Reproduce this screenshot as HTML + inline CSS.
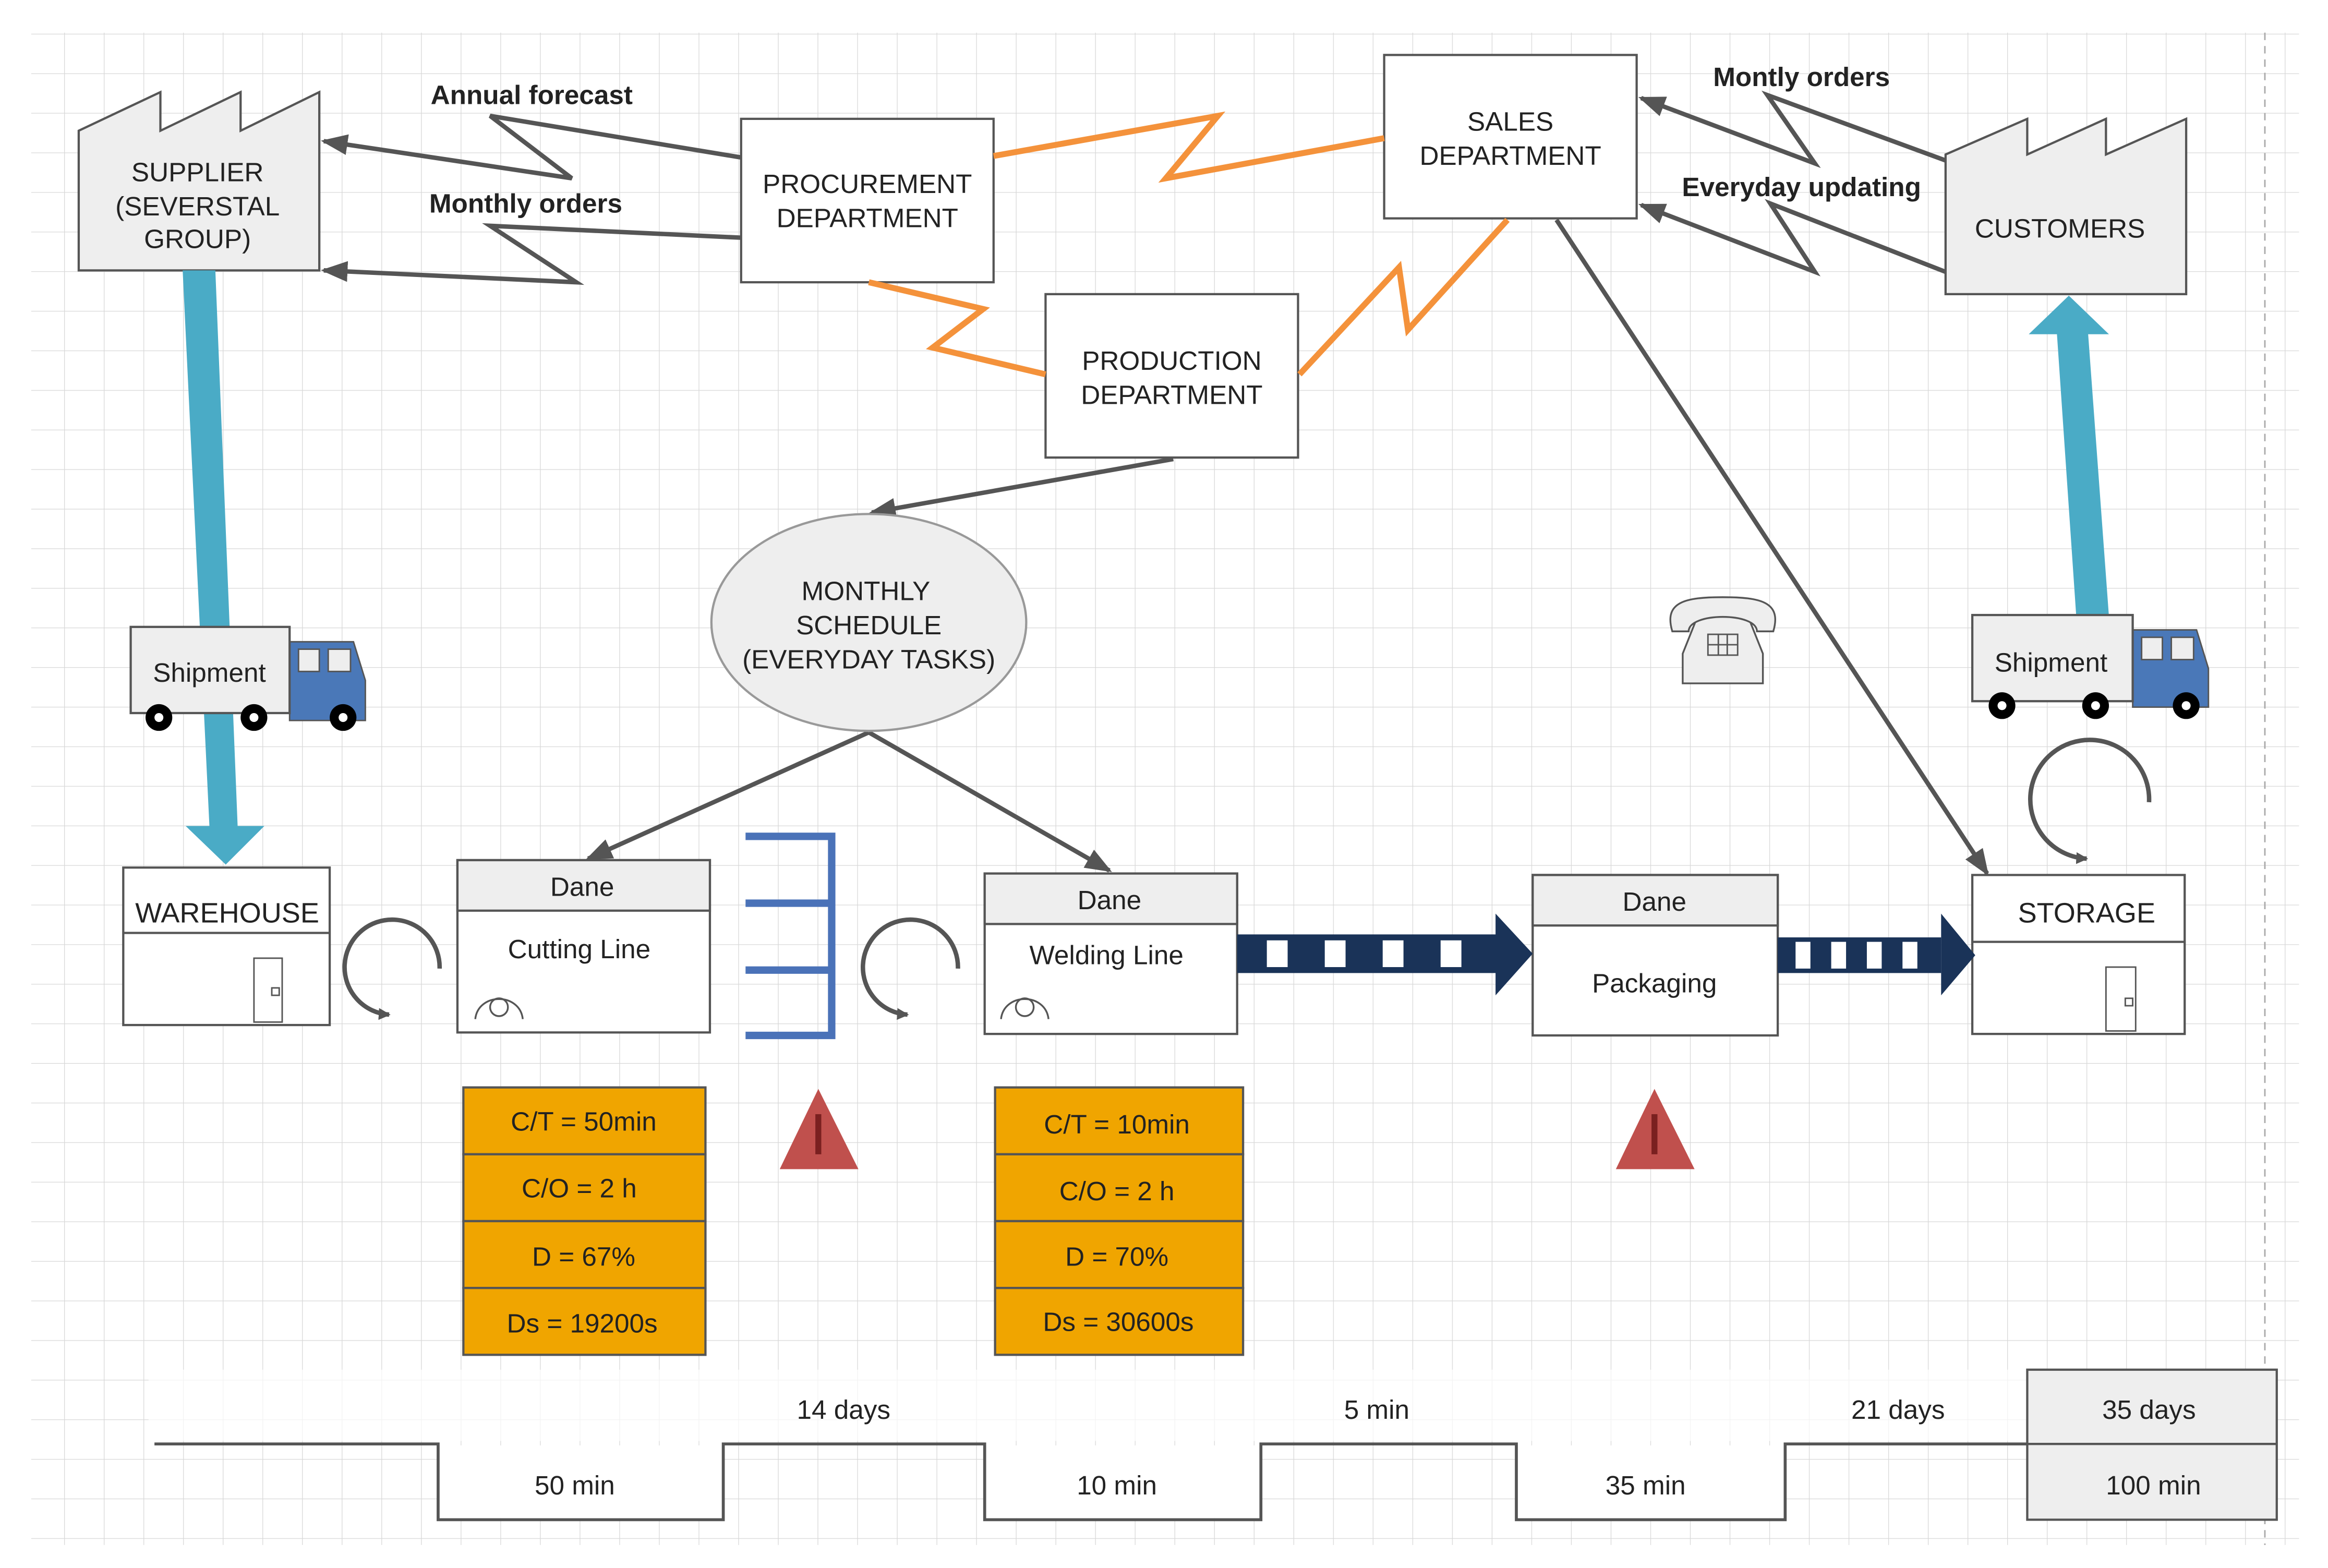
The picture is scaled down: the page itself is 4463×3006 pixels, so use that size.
<!DOCTYPE html>
<html><head><meta charset="utf-8"><style>
html,body{margin:0;padding:0;background:#fff;}
svg{display:block;}
text{font-family:"Liberation Sans",Arial,sans-serif;fill:#222;}
</style></head><body>
<svg width="4463" height="3006" viewBox="0 0 1567.5 1055.5" preserveAspectRatio="none" xmlns="http://www.w3.org/2000/svg">
<defs>
<pattern id="g" x="43.2" y="22.7" width="26.7" height="26.65" patternUnits="userSpaceOnUse">
<path d="M0 0 V26.65 M0 0 H26.7" stroke="#d8d8d8" stroke-width="0.9" fill="none"/>
</pattern>
<marker id="ah" markerWidth="8" markerHeight="8" refX="7" refY="4" orient="auto" markerUnits="userSpaceOnUse" viewBox="0 0 8 8">
<path d="M0,0 L8,4 L0,8 z" fill="#555"/></marker>
<marker id="ahb" markerWidth="18" markerHeight="14" refX="16" refY="7" orient="auto" markerUnits="userSpaceOnUse">
<path d="M0,0 L18,7 L0,14 z" fill="#555"/></marker>
</defs>
<rect x="21" y="22" width="1527" height="1018" fill="url(#g)"/>
<line x1="1525" y1="22" x2="1525" y2="1040" stroke="#aaa" stroke-dasharray="5,4"/>

<rect x="100" y="922" width="1265" height="48" fill="#fff" opacity="0.7"/>

<!-- Supplier -->
<polygon points="53,182 53,88 108,62 108,88 162,62 162,88 215,62 215,182" fill="#eee" stroke="#555" stroke-width="1.5"/>
<text x="133" y="122" font-size="18" text-anchor="middle">SUPPLIER</text>
<text x="133" y="145" font-size="18" text-anchor="middle">(SEVERSTAL</text>
<text x="133" y="167" font-size="18" text-anchor="middle">GROUP)</text>

<!-- Customers -->
<polygon points="1310,198 1310,104 1365,80 1365,104 1418,80 1418,104 1472,80 1472,198" fill="#eee" stroke="#555" stroke-width="1.5"/>
<text x="1387" y="160" font-size="18" text-anchor="middle">CUSTOMERS</text>

<!-- Dept boxes -->
<rect x="499" y="80" width="170" height="110" fill="#fff" stroke="#555" stroke-width="1.5"/>
<text x="584" y="130" font-size="18" text-anchor="middle">PROCUREMENT</text>
<text x="584" y="153" font-size="18" text-anchor="middle">DEPARTMENT</text>
<rect x="932" y="37" width="170" height="110" fill="#fff" stroke="#555" stroke-width="1.5"/>
<text x="1017" y="88" font-size="18" text-anchor="middle">SALES</text>
<text x="1017" y="111" font-size="18" text-anchor="middle">DEPARTMENT</text>
<rect x="704" y="198" width="170" height="110" fill="#fff" stroke="#555" stroke-width="1.5"/>
<text x="789" y="249" font-size="18" text-anchor="middle">PRODUCTION</text>
<text x="789" y="272" font-size="18" text-anchor="middle">DEPARTMENT</text>

<g stroke="#f4923b" stroke-width="4" fill="none" stroke-linejoin="miter">
<polyline points="669,105 820,78 785,120 932,93"/>
<polyline points="585,190 662,208 628,234 704,252"/>
<polyline points="875,252 942,180 948,222 1015,148"/>
</g>

<g stroke="#555" stroke-width="3" fill="none">
<polyline points="499,106 330,78 385,120 218,95" marker-end="url(#ahb)"/>
<polyline points="499,160 330,152 388,190 218,182" marker-end="url(#ahb)"/>
<polyline points="1310,108 1190,64 1222,110 1105,66" marker-end="url(#ahb)"/>
<polyline points="1310,183 1192,137 1222,183 1105,138" marker-end="url(#ahb)"/>
<line x1="790" y1="309" x2="587" y2="345" marker-end="url(#ahb)"/>
<line x1="585" y1="493" x2="396" y2="578" marker-end="url(#ahb)"/>
<line x1="585" y1="493" x2="747" y2="586" marker-end="url(#ahb)"/>
<line x1="1048" y1="148" x2="1338" y2="588" marker-end="url(#ahb)"/>
</g>
<text x="358" y="70" font-size="18" font-weight="bold" text-anchor="middle">Annual forecast</text>
<text x="354" y="143" font-size="18" font-weight="bold" text-anchor="middle">Monthly orders</text>
<text x="1213" y="58" font-size="18" font-weight="bold" text-anchor="middle">Montly orders</text>
<text x="1213" y="132" font-size="18" font-weight="bold" text-anchor="middle">Everyday updating</text>

<ellipse cx="585" cy="419" rx="106" ry="73" fill="#eee" stroke="#999" stroke-width="1.5"/>
<text x="583" y="404" font-size="18" text-anchor="middle">MONTHLY</text>
<text x="585" y="427" font-size="18" text-anchor="middle">SCHEDULE</text>
<text x="585" y="450" font-size="18" text-anchor="middle">(EVERYDAY TASKS)</text>

<polygon points="123,182 145,182 160,556 178,556 152,582 125,556 141,556" fill="#4aabc6"/>
<polygon points="1398,415 1420,415 1406,225 1420,225 1393,199 1366,225 1385,225" fill="#4aabc6"/>

<g>
<path d="M195,432 H238 L246,458 V485 H195 Z" fill="#4a78b8" stroke="#555" stroke-width="1"/>
<rect x="201" y="437" width="14" height="15" fill="#eee" stroke="#555"/>
<rect x="221" y="437" width="15" height="15" fill="#eee" stroke="#555"/>
<rect x="88" y="422" width="107" height="58" fill="#eee" stroke="#555" stroke-width="1.5"/>
<text x="141" y="459" font-size="18" text-anchor="middle">Shipment</text>
<g fill="#000"><circle cx="107" cy="483" r="9"/><circle cx="171" cy="483" r="9"/><circle cx="231" cy="483" r="9"/></g>
<g fill="#fff"><circle cx="107" cy="483" r="3"/><circle cx="171" cy="483" r="3"/><circle cx="231" cy="483" r="3"/></g>
</g>
<g>
<path d="M1436,424 H1479 L1487,450 V476 H1436 Z" fill="#4a78b8" stroke="#555" stroke-width="1"/>
<rect x="1442" y="429" width="14" height="15" fill="#eee" stroke="#555"/>
<rect x="1462" y="429" width="15" height="15" fill="#eee" stroke="#555"/>
<rect x="1328" y="414" width="108" height="58" fill="#eee" stroke="#555" stroke-width="1.5"/>
<text x="1381" y="452" font-size="18" text-anchor="middle">Shipment</text>
<g fill="#000"><circle cx="1348" cy="475" r="9"/><circle cx="1411" cy="475" r="9"/><circle cx="1472" cy="475" r="9"/></g>
<g fill="#fff"><circle cx="1348" cy="475" r="3"/><circle cx="1411" cy="475" r="3"/><circle cx="1472" cy="475" r="3"/></g>
</g>

<g fill="#eee" stroke="#555" stroke-width="1.2">
<path d="M1133,460 V440 L1143,415 H1177 L1187,440 V460 Z"/>
<path d="M1126,425 C1120,405 1135,402 1160,402 C1185,402 1200,405 1194,425 L1183,425 C1183,412 1137,412 1137,425 Z"/>
</g>
<g fill="none" stroke="#555" stroke-width="1"><rect x="1150" y="427" width="20" height="14"/><path d="M1157,427 V441 M1163,427 V441 M1150,434 H1170"/></g>

<rect x="83" y="584" width="139" height="106" fill="#fff" stroke="#555" stroke-width="1.5"/>
<line x1="83" y1="628" x2="222" y2="628" stroke="#555" stroke-width="1.5"/>
<text x="153" y="621" font-size="19" text-anchor="middle">WAREHOUSE</text>
<rect x="171" y="645" width="19" height="43" fill="#fff" stroke="#555"/>
<rect x="183" y="665" width="5" height="5" fill="none" stroke="#555"/>
<rect x="1328" y="589" width="143" height="107" fill="#fff" stroke="#555" stroke-width="1.5"/>
<line x1="1328" y1="634" x2="1471" y2="634" stroke="#555" stroke-width="1.5"/>
<text x="1405" y="621" font-size="19" text-anchor="middle">STORAGE</text>
<rect x="1418" y="651" width="20" height="43" fill="#fff" stroke="#555"/>
<rect x="1431" y="672" width="5" height="5" fill="none" stroke="#555"/>

<rect x="308" y="579" width="170" height="116" fill="#fff" stroke="#555" stroke-width="1.5"/>
<rect x="308" y="579" width="170" height="34" fill="#eee" stroke="#555" stroke-width="1.5"/>
<text x="392" y="603" font-size="18" text-anchor="middle">Dane</text>
<text x="390" y="645" font-size="18" text-anchor="middle">Cutting Line</text>
<g fill="none" stroke="#555" stroke-width="1.2"><circle cx="336" cy="678" r="6"/><path d="M320,686 C322,668 350,668 352,686"/></g>

<rect x="663" y="588" width="170" height="108" fill="#fff" stroke="#555" stroke-width="1.5"/>
<rect x="663" y="588" width="170" height="34" fill="#eee" stroke="#555" stroke-width="1.5"/>
<text x="747" y="612" font-size="18" text-anchor="middle">Dane</text>
<text x="745" y="649" font-size="18" text-anchor="middle">Welding Line</text>
<g fill="none" stroke="#555" stroke-width="1.2"><circle cx="690" cy="678" r="6"/><path d="M674,686 C676,668 704,668 706,686"/></g>

<rect x="1032" y="589" width="165" height="108" fill="#fff" stroke="#555" stroke-width="1.5"/>
<rect x="1032" y="589" width="165" height="34" fill="#eee" stroke="#555" stroke-width="1.5"/>
<text x="1114" y="613" font-size="18" text-anchor="middle">Dane</text>
<text x="1114" y="668" font-size="18" text-anchor="middle">Packaging</text>

<g fill="none" stroke="#555" stroke-width="3">
<path d="M296,652 A32,32 0 1 0 262,683" marker-end="url(#ah)"/>
<path d="M645,652 A32,32 0 1 0 611,683" marker-end="url(#ah)"/>
<path d="M1447,540 A40,40 0 1 0 1405,578" marker-end="url(#ah)"/>
</g>

<g stroke="#4a72b8" stroke-width="5" fill="none">
<path d="M502,563 H560 V697 H502 M502,608 H560 M502,653 H560"/>
</g>

<rect x="833" y="629" width="177" height="26" fill="#1a3358"/>
<g fill="#fff"><rect x="853" y="633" width="14" height="18"/><rect x="892" y="633" width="14" height="18"/><rect x="931" y="633" width="14" height="18"/><rect x="970" y="633" width="14" height="18"/></g>
<polygon points="1007,615 1032,642 1007,670" fill="#1a3358"/>
<rect x="1197" y="631" width="110" height="24" fill="#1a3358"/>
<g fill="#fff"><rect x="1209" y="634" width="10" height="18"/><rect x="1233" y="634" width="10" height="18"/><rect x="1257" y="634" width="10" height="18"/><rect x="1281" y="634" width="10" height="18"/></g>
<polygon points="1307,615 1330,643 1307,670" fill="#1a3358"/>

<g fill="#f0a500" stroke="#555" stroke-width="1.5">
<rect x="312" y="732" width="163" height="45"/><rect x="312" y="777" width="163" height="45"/><rect x="312" y="822" width="163" height="45"/><rect x="312" y="867" width="163" height="45"/>
<rect x="670" y="732" width="167" height="45"/><rect x="670" y="777" width="167" height="45"/><rect x="670" y="822" width="167" height="45"/><rect x="670" y="867" width="167" height="45"/>
</g>
<g font-size="18" text-anchor="middle">
<text x="393" y="761">C/T = 50min</text><text x="390" y="806">C/O = 2 h</text><text x="393" y="852">D = 67%</text><text x="392" y="897">Ds = 19200s</text>
<text x="752" y="763">C/T = 10min</text><text x="752" y="808">C/O = 2 h</text><text x="752" y="852">D = 70%</text><text x="753" y="896">Ds = 30600s</text>
</g>

<polygon points="525,787 551,733 578,787" fill="#c0504d"/>
<rect x="549" y="750" width="4" height="27" fill="#7a2020"/>
<polygon points="1088,787 1114,733 1141,787" fill="#c0504d"/>
<rect x="1112" y="750" width="4" height="27" fill="#7a2020"/>

<rect x="295" y="973" width="192" height="49" fill="#fff"/>
<rect x="663" y="973" width="186" height="49" fill="#fff"/>
<rect x="1021" y="973" width="181" height="49" fill="#fff"/>
<polyline points="104,972 295,972 295,1023 487,1023 487,972 663,972 663,1023 849,1023 849,972 1021,972 1021,1023 1202,1023 1202,972 1365,972" fill="none" stroke="#555" stroke-width="2"/>
<rect x="1365" y="922" width="168" height="101" fill="#eee" stroke="#555" stroke-width="1.5"/>
<line x1="1365" y1="972" x2="1533" y2="972" stroke="#555" stroke-width="1.5"/>
<g font-size="18" text-anchor="middle">
<text x="568" y="955">14 days</text><text x="927" y="955">5 min</text><text x="1278" y="955">21 days</text><text x="1447" y="955">35 days</text>
<text x="387" y="1006">50 min</text><text x="752" y="1006">10 min</text><text x="1108" y="1006">35 min</text><text x="1450" y="1006">100 min</text>
</g>
</svg>
</body></html>
